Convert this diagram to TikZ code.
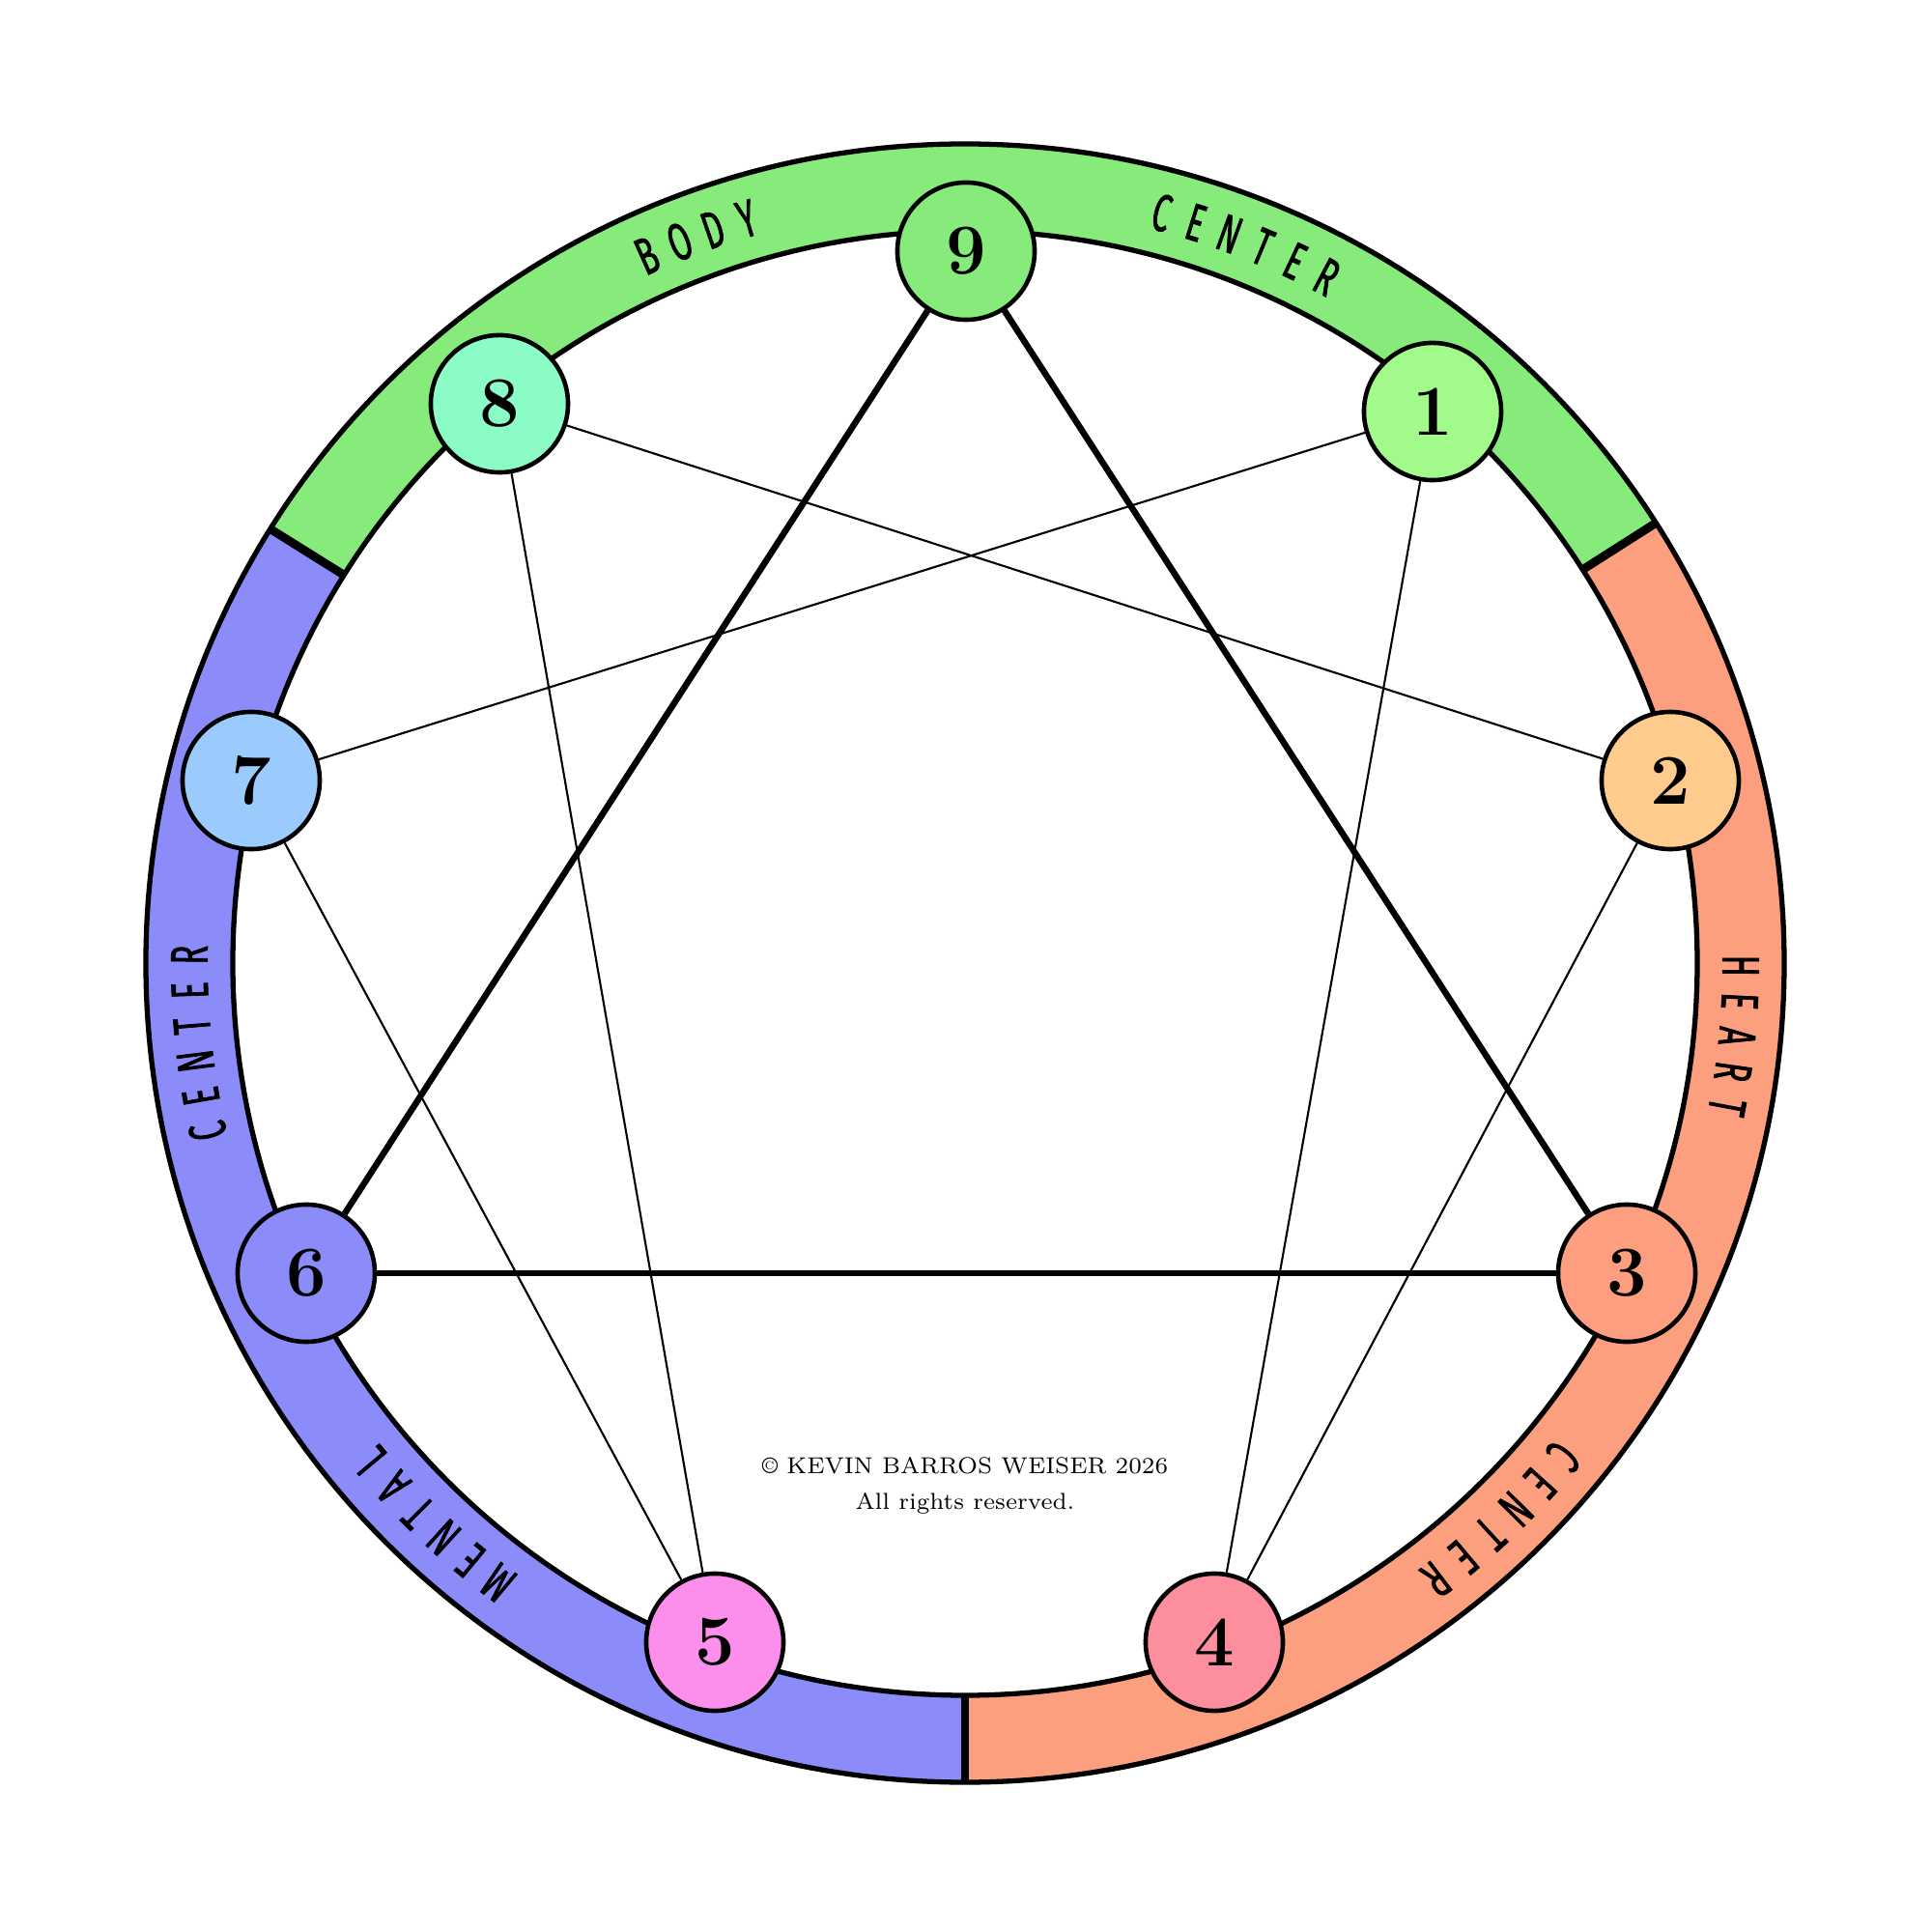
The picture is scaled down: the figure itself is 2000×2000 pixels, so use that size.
\documentclass[tikz,border=0pt]{standalone}
\usepackage{fontspec}
\newfontfamily\bandfont[FakeStretch=0.6, FakeBold=1.2]{Fira Sans}
\usetikzlibrary{positioning}

\definecolor{bodygreen}{HTML}{86EB7B}
\definecolor{heartsalmon}{HTML}{FC9F7F}
\definecolor{mentalblue}{HTML}{8B8CFA}
\definecolor{cone}{HTML}{A2FA8A}
\definecolor{ctwo}{HTML}{FDCB8B}
\definecolor{cthree}{HTML}{FC9E7F}
\definecolor{cfour}{HTML}{FC8E9E}
\definecolor{cfive}{HTML}{FC8EEC}
\definecolor{csix}{HTML}{8B8CFA}
\definecolor{cseven}{HTML}{9BCBFC}
\definecolor{ceight}{HTML}{8CFCC6}
\definecolor{cnine}{HTML}{86EB7B}

% letters of a band label, one by one, clockwise
\newcommand{\bandword}[2]{%
  \foreach \ch [count=\i] in {#2} {
    \pgfmathsetmacro{\ang}{#1-(\i-1)*2.62}
    \node[bandtxt, rotate=\ang-90] at (\ang:803) {\ch};
  }%
}

\begin{document}
\begin{tikzpicture}[x=0.01cm, y=0.01cm,
    point/.style={circle, draw, line width=1.3pt, minimum size=1.42cm, inner sep=0pt,
      font=\fontsize{21}{24}\selectfont\bfseries},
    bandtxt/.style={inner sep=0pt, font=\bandfont\fontsize{15.5}{18}\selectfont},
    ring/.style={line width=1.5pt},
    divider/.style={line width=2.5pt},
    strong/.style={line width=1.85pt},
    weak/.style={line width=0.6pt}]
    \useasboundingbox (-999,-1003) rectangle (1001,997);

    % the three centers
    \fill[bodygreen] (32.5:848) arc[start angle=32.5, end angle=148, radius=848]
        -- (148:758) arc[start angle=148, end angle=32.5, radius=758] -- cycle;
    \fill[heartsalmon] (-90:848) arc[start angle=-90, end angle=32.5, radius=848]
        -- (32.5:758) arc[start angle=32.5, end angle=-90, radius=758] -- cycle;
    \fill[mentalblue] (148:848) arc[start angle=148, end angle=270, radius=848]
        -- (270:758) arc[start angle=270, end angle=148, radius=758] -- cycle;
    \draw[ring] (0,0) circle (848);
    \draw[ring] (0,0) circle (758);
    \draw[divider] (32.5:756) -- (32.5:850);
    \draw[divider] (148:756) -- (148:850);
    \draw[divider] (-90:756) -- (-90:850);

    \bandword{114.2}{B,O,D,Y}
    \bandword{75.3}{C,E,N,T,E,R}
    \bandword{-0.2}{H,E,A,R,T}
    \bandword{-39.5}{C,E,N,T,E,R}
    \bandword{-127.0}{M,E,N,T,A,L}
    \bandword{192.5}{C,E,N,T,E,R}

    % points
    \node[point, fill=cnine] (n9) at (1,737) {9};
    \node[point, fill=cone] (n1) at (484,571) {1};
    \node[point, fill=ctwo] (n2) at (730,189) {2};
    \node[point, fill=cthree] (n3) at (685,-321) {3};
    \node[point, fill=cfour] (n4) at (258,-703) {4};
    \node[point, fill=cfive] (n5) at (-259,-703) {5};
    \node[point, fill=csix] (n6) at (-682,-321) {6};
    \node[point, fill=cseven] (n7) at (-739,189) {7};
    \node[point, fill=ceight] (n8) at (-482,579) {8};

    % triangle
    \draw[strong] (n9) -- (n3);
    \draw[strong] (n3) -- (n6);
    \draw[strong] (n6) -- (n9);
    % hexad
    \draw[weak] (n1) -- (n4);
    \draw[weak] (n4) -- (n2);
    \draw[weak] (n2) -- (n8);
    \draw[weak] (n8) -- (n5);
    \draw[weak] (n5) -- (n7);
    \draw[weak] (n7) -- (n1);

    \node[align=center, font=\fontsize{6.8}{10.3}\selectfont] (rights) at (0,-541)
        {\textcopyright{} KEVIN BARROS WEISER 2026\\All rights reserved.};
\end{tikzpicture}
\end{document}
